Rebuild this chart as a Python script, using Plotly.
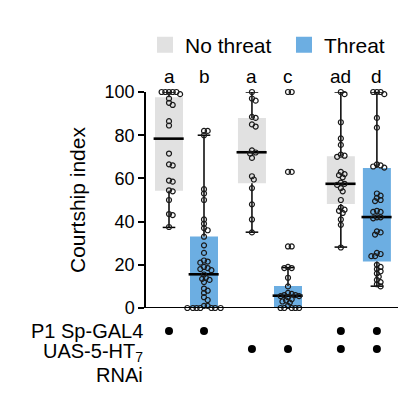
import plotly.graph_objects as go

# ---------------- data ----------------
group_names = ["No threat", "Threat", "No threat", "Threat", "No threat", "Threat"]
letters = ["a", "b", "a", "c", "ad", "d"]

q1 = [54.3, 0.0, 57.8, 0.0, 48.1, 21.5]
median = [78.4, 15.6, 72.1, 5.7, 57.5, 42.1]
q3 = [97.6, 33.1, 88.0, 10.2, 70.2, 64.8]
lower = [37.3, 0.0, 35.1, 0.0, 28.2, 10.1]
upper = [100, 80.0, 100, 18.7, 100, 100]

pts1 = [100, 100, 100, 100, 100, 99, 97, 95, 94, 86.5, 84.5, 71.5, 66.5, 66, 59, 58.5,
        54.5, 54, 50, 43.5, 43, 37.5]
pts2 = [82, 82, 80, 55, 53, 50, 41, 39, 37, 36, 33, 29, 25.5, 22, 21.5, 21, 19, 18.5, 18,
        17.5, 15.5, 14, 13.5, 13, 12, 9, 8, 7, 5, 3.7, 1, 1, 0, 0, 0, 0, 0, 0, 0]
pts3 = [100, 97, 96, 88.5, 88, 85, 84, 73, 72, 71.5, 69.5, 61, 59.5, 55.5, 48, 41, 35]
pts4 = [100, 100, 63, 63, 28.5, 28.5, 19, 18.5, 18.5, 14, 10, 7, 6.5, 6, 6, 5.5, 5.5, 5,
        4, 3.5, 3, 2.5, 1, 0, 0, 0, 0, 0]
pts5 = [100, 99, 86, 78.5, 75.5, 71, 70.5, 70, 63, 62, 61.5, 60.5, 58, 57.5, 57, 55.5,
        54, 50, 46.5, 45.5, 45, 44, 41, 38.5, 28]
pts6 = [100, 100, 100, 99, 88, 83.5, 66.5, 66, 65.5, 65, 53, 52, 51, 50, 49.5, 45, 44.5,
        44.5, 42, 42, 41.5, 35.5, 35, 34, 25.5, 25, 24, 24, 20, 19, 18, 17, 16, 14.5, 13,
        12, 11, 10]
points = [pts1, pts2, pts3, pts4, pts5, pts6]

genotype_rows = ["P1 Sp-GAL4", "UAS-5-HT<sub>7</sub>"]
p1_gal4 = [1, 1, 0, 0, 1, 1]
uas_rnai = [0, 0, 1, 1, 1, 1]

# ---------------- layout constants ----------------
pos = [0, 1, 2.37, 3.4, 4.91, 5.94]
GREY = "#e1e1e1"
BLUE = "#6caee2"
FONT = "Liberation Sans"
PAGE_OFF = 8                    # default page body margin
W, H = 411 - PAGE_OFF, 395 - PAGE_OFF
ML, MR, MT = 146 - PAGE_OFF, 13, 92 - PAGE_OFF
PLOT_W = W - ML - MR            # 252
PLOT_H = 293
MB = H - MT - PLOT_H
BOT = 77                        # px below the zero line reserved for genotype rows
YDOM = BOT / PLOT_H
XR = [-0.657, 6.543]
px_x = PLOT_W / (XR[1] - XR[0])
px_y = (PLOT_H - BOT) / 100.0


def swarm(vals, center, d=3.7):
    placed = []
    xs = []
    for v in vals:
        yp = v * px_y
        k = 0
        while True:
            off = ((k + 1) // 2) * (0.5 * d) * (1 if k % 2 else -1) if k else 0.0
            if all((off - a) ** 2 + (yp - b) ** 2 >= d * d for a, b in placed):
                break
            k += 1
        placed.append((off, yp))
        xs.append(center + off / px_x)
    return xs


fig = go.Figure()

# boxes as bars (q1..q3)
for name, color in [("No threat", GREY), ("Threat", BLUE)]:
    idx = [i for i, g in enumerate(group_names) if g == name]
    fig.add_trace(go.Bar(
        x=[pos[i] for i in idx], base=[q1[i] for i in idx],
        y=[q3[i] - q1[i] for i in idx], width=0.8,
        marker=dict(color=color, line=dict(width=0)),
        showlegend=False, hoverinfo="skip"))

# whiskers, caps, medians
wx, wy, cx, cy, mx, my = [], [], [], [], [], []
for i, p in enumerate(pos):
    wx += [p, p, None, p, p, None]
    wy += [lower[i], q1[i], None, q3[i], upper[i], None]
    cx += [p - 0.18, p + 0.18, None, p - 0.18, p + 0.18, None]
    cy += [lower[i], lower[i], None, upper[i], upper[i], None]
    mx += [p - 0.44, p + 0.42, None]
    my += [median[i], median[i], None]
fig.add_trace(go.Scatter(x=wx, y=wy, mode="lines", line=dict(color="black", width=1.5),
                         showlegend=False, hoverinfo="skip", cliponaxis=False))
fig.add_trace(go.Scatter(x=cx, y=cy, mode="lines", line=dict(color="black", width=1.5),
                         showlegend=False, hoverinfo="skip", cliponaxis=False))
fig.add_trace(go.Scatter(x=mx, y=my, mode="lines", line=dict(color="black", width=2.6),
                         showlegend=False, hoverinfo="skip"))

# points
for i, vals in enumerate(points):
    fig.add_trace(go.Scatter(
        x=swarm(vals, pos[i]), y=vals, mode="markers",
        marker=dict(symbol="circle-open", size=5, color="#1a1a1a", line=dict(width=1.2)),
        showlegend=False, cliponaxis=False, hoverinfo="skip"))

# legend entries
for name, color in [("No threat", GREY), ("Threat", BLUE)]:
    fig.add_trace(go.Scatter(x=[None], y=[None], mode="markers", name=name,
                             marker=dict(symbol="square", size=16, color=color)))

# genotype dots (second y axis below the plot)
row_y = [54, 36]
for r, flags in enumerate([p1_gal4, uas_rnai]):
    fig.add_trace(go.Scatter(
        x=[pos[i] for i, f in enumerate(flags) if f],
        y=[row_y[r]] * sum(flags), mode="markers", yaxis="y2",
        marker=dict(size=8, color="black"), showlegend=False,
        cliponaxis=False, hoverinfo="skip"))

annotations = []
letter_y = 1 + (92 - 77) / PLOT_H
for i, t in enumerate(letters):
    annotations.append(dict(x=pos[i], y=letter_y, xref="x", yref="paper", text=t,
                            yanchor="middle", showarrow=False,
                            font=dict(size=19, color="black", family=FONT)))
lab_x = -1 / PLOT_W
lab_font = dict(size=20, color="black", family=FONT)
annotations.append(dict(x=lab_x, y=row_y[0], xref="paper", yref="y2", text=genotype_rows[0],
                        xanchor="right", yanchor="middle", showarrow=False, font=lab_font))
annotations.append(dict(x=lab_x, y=row_y[1] - 3, xref="paper", yref="y2", text=genotype_rows[1],
                        xanchor="right", yanchor="middle", showarrow=False, font=lab_font))
annotations.append(dict(x=lab_x, y=10, xref="paper", yref="y2", text="RNAi",
                        xanchor="right", yanchor="middle", showarrow=False, font=lab_font))

fig.update_layout(
    width=W, height=H,
    margin=dict(l=ML, r=MR, t=MT, b=MB, autoexpand=False),
    paper_bgcolor="white", plot_bgcolor="white",
    barmode="overlay",
    font=dict(family=FONT, size=18, color="black"),
    showlegend=True,
    legend=dict(orientation="h", x=-0.004, xanchor="left", y=(PLOT_H + MT + PAGE_OFF - 45) / PLOT_H,
                yanchor="middle", font=dict(size=21, family=FONT), itemclick=False,
                entrywidth=94, entrywidthmode="pixels",
                tracegroupgap=0, bgcolor="rgba(0,0,0,0)"),
    xaxis=dict(range=XR, showticklabels=False, ticks="", showgrid=False, zeroline=False,
               showline=False, fixedrange=True, anchor="y"),
    yaxis=dict(domain=[YDOM, 1], range=[0, 100], tickvals=[0, 20, 40, 60, 80, 100],
               ticks="outside", ticklen=6, tickwidth=1.5, tickcolor="black", showline=True,
               linecolor="black", linewidth=1.5, showgrid=False, zeroline=False,
               tickfont=dict(size=18, family=FONT),
               title=dict(text="Courtship index", font=dict(size=21, family=FONT), standoff=13)),
    yaxis2=dict(domain=[0, YDOM], range=[0, BOT], visible=False, fixedrange=True),
    annotations=annotations,
    shapes=[dict(type="line", xref="paper", yref="y", x0=0, x1=1, y0=0, y1=0,
                 line=dict(color="black", width=2))],
)

fig.write_html("out.html")
